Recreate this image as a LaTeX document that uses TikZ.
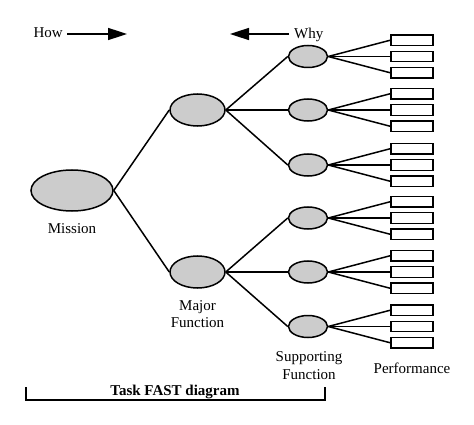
\documentclass[tikz,border=0pt]{standalone}
\usepackage{fontspec}
\setmainfont{Liberation Serif}
\usetikzlibrary{arrows.meta,shapes.geometric}
\begin{document}
\begin{tikzpicture}[x=1pt,y=-1pt,
  fn/.style={ellipse, draw, fill=black!20, line width=1.5pt, inner sep=0pt},
  perf/.style={rectangle, draw, line width=1.4pt, minimum width=42pt, minimum height=10.5pt, inner sep=0pt},
  link/.style={line width=1.5pt},
  dirarrow/.style={line width=1.6pt, -{Triangle[length=19pt,width=12pt]}},
  lbl/.style={font=\fontsize{15}{17.5}\selectfont, align=center, inner sep=0pt}]
\useasboundingbox (0,0) rectangle (474,425);

% direction arrows
\node[lbl, anchor=base east] (how) at (63,38) {How};
\coordinate (howend) at (127,34);
\draw[dirarrow] (how.east |- howend) ++(4,0) coordinate (howstart) -- (howend);
\node[lbl, anchor=base west] (why) at (294,38.5) {Why};
\coordinate (whyend) at (230,34);
\draw[dirarrow] (why.west |- whyend) ++(-5,0) coordinate (whystart) -- (whyend);

% mission and major functions
\node[fn, minimum width=82pt, minimum height=41pt] (mission) at (72,190.5) {};
\node[fn, minimum width=55pt, minimum height=32pt] (mjA) at (197.5,110) {};
\node[fn, minimum width=55pt, minimum height=32pt] (mjB) at (197.5,272) {};
\draw[link] (mission.east) -- (mjA.west);
\draw[link] (mission.east) -- (mjB.west);

% supporting functions
\foreach \n/\y/\m in {1/56.5/mjA, 2/110/mjA, 3/165/mjA, 4/218/mjB, 5/272/mjB, 6/326.5/mjB} {
  \node[fn, minimum width=39pt, minimum height=22pt] (s\n) at (308,\y) {};
  \draw[link] (\m.east) -- (s\n.west);
  \node[perf] (p\n a) at (412,\y-16.3) {};
  \node[perf] (p\n b) at (412,\y) {};
  \node[perf] (p\n c) at (412,\y+16.3) {};
  \draw[link] (s\n.east) -- (p\n a.west);
  \draw[link] (s\n.east) -- (p\n b.west);
  \draw[link] (s\n.east) -- (p\n c.west);
}

% labels
\node[lbl, anchor=base] (missionlbl) at (72,233) {Mission};
\node[lbl, anchor=north] (majorlbl) at (197.5,300) {Major\\Function};
\node[lbl, anchor=north] (supportlbl) at (309,351.5) {Supporting\\Function};
\node[lbl, anchor=base] (perflbl) at (412,373) {Performance};

% task FAST bracket
\node[lbl, anchor=base, font=\fontsize{15}{17.5}\selectfont\bfseries] (task) at (175,395) {Task FAST diagram};
\coordinate (brL) at (26,387);
\coordinate (brR) at (325,387);
\draw[line width=1.5pt] (brL) -- ++(0,13) coordinate (brLB) -- (brLB -| brR) -- (brR);
\end{tikzpicture}
\end{document}
